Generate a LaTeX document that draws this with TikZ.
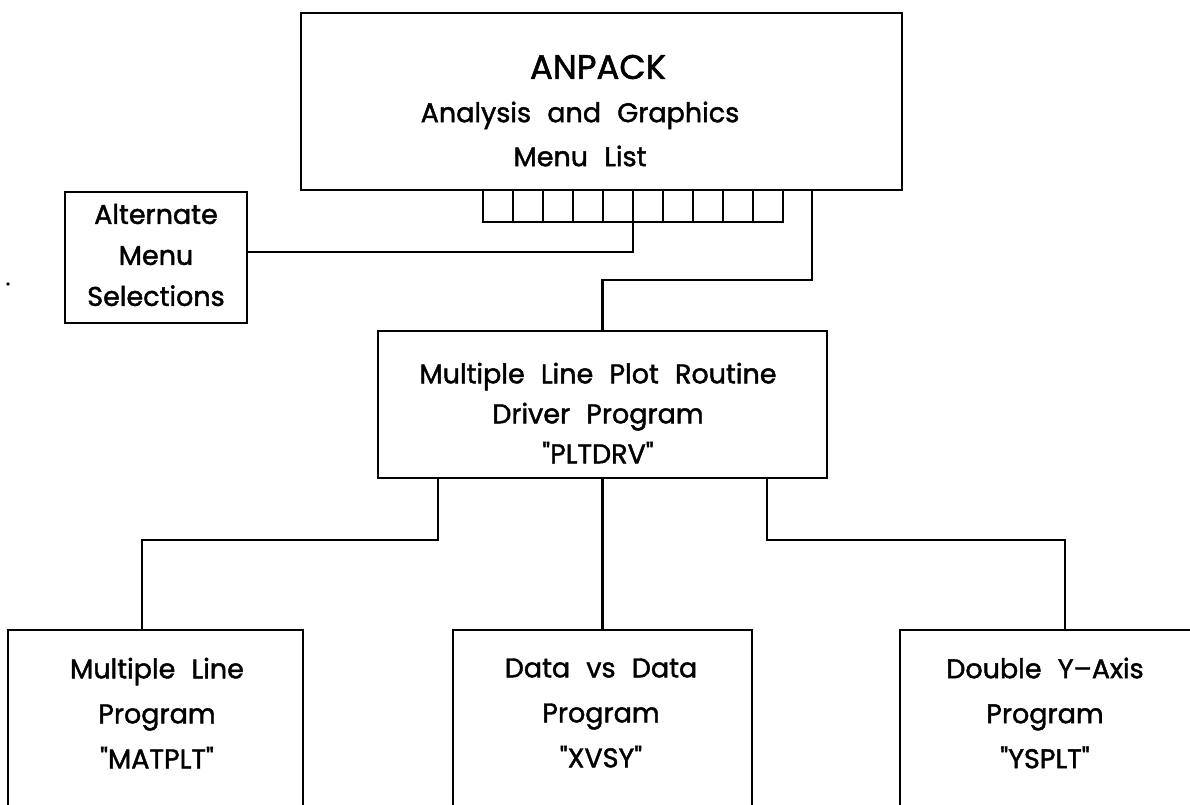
\documentclass[tikz,border=0pt]{standalone}
\usepackage{fontspec}
\setmainfont{Poppins}[FakeBold=1.6]
\newcommand{\q}{\textquotedbl}
\newcommand{\w}{\hspace{0.6em}}
\begin{document}
\begin{tikzpicture}[x=1pt,y=-1pt,line width=2.6pt,line join=miter,
  box/.style={draw,rectangle,inner sep=0pt,outer sep=0pt,anchor=north west},
  txt/.style={align=center,inner sep=0pt,font=\fontsize{27}{45}\selectfont},
  big/.style={inner sep=0pt,font=\fontsize{34}{41}\selectfont}]
\clip (0,0) rectangle (1190,804);
% top box
\node[box,minimum width=601pt,minimum height=177pt] (top) at (301,13) {};
\node[big] (anpack) at (598,67) {ANPACK};
\node[txt,font=\fontsize{27}{44}\selectfont] (toptxt) at (580,134) {Analysis\w and\w Graphics\\Menu\w List};
% menu squares
\foreach \i in {1,...,10}
  \node[box,minimum width=30pt,minimum height=32pt] (m\i) at ({483+30*(\i-1)},190) {};
% alternate box
\node[box,minimum width=182pt,minimum height=131pt] (alt) at (65,192) {};
\node[txt,font=\fontsize{27}{41}\selectfont] (alttxt) at (156,255) {Alternate\\Menu\\Selections};
\fill (8,284) circle (1.8pt);
% driver box
\node[box,minimum width=449pt,minimum height=147pt] (plt) at (378,331) {};
\node[txt,font=\fontsize{27}{40}\selectfont] (plttxt) at (598,413) {Multiple\w Line\w Plot\w Routine\\Driver\w Program\\\q PLTDRV\q};
% bottom boxes
\node[box,minimum width=295pt,minimum height=220pt] (b1) at (8,630) {};
\node[box,minimum width=299pt,minimum height=220pt] (b2) at (453,630) {};
\node[box,minimum width=330pt,minimum height=220pt] (b3) at (900,630) {};
\node[txt] (t1) at (157,713) {Multiple\w Line\\Program\\\q MATPLT\q};
\node[txt] (t2) at (601,713) {Data\w vs\w Data\\Program\\\q XVSY\q};
\node[txt] (t3) at (1045,713) {Double\w Y--Axis\\Program\\\q YSPLT\q};
% connectors
\draw (m5.south east) |- ([yshift=5.5pt]alt.east);
\draw (top.south -| 812,0) |- (plt.north |- 0,280) -- (plt.north);
\draw ([xshift=-164.5pt]plt.south) |- ([xshift=-13.5pt]b1.north |- 0,540) -- ([xshift=-13.5pt]b1.north);
\draw (plt.south) -- (b2.north -| plt.south);
\draw ([xshift=164.5pt]plt.south) |- (b3.north |- 0,540) -- (b3.north);
\end{tikzpicture}
\end{document}
